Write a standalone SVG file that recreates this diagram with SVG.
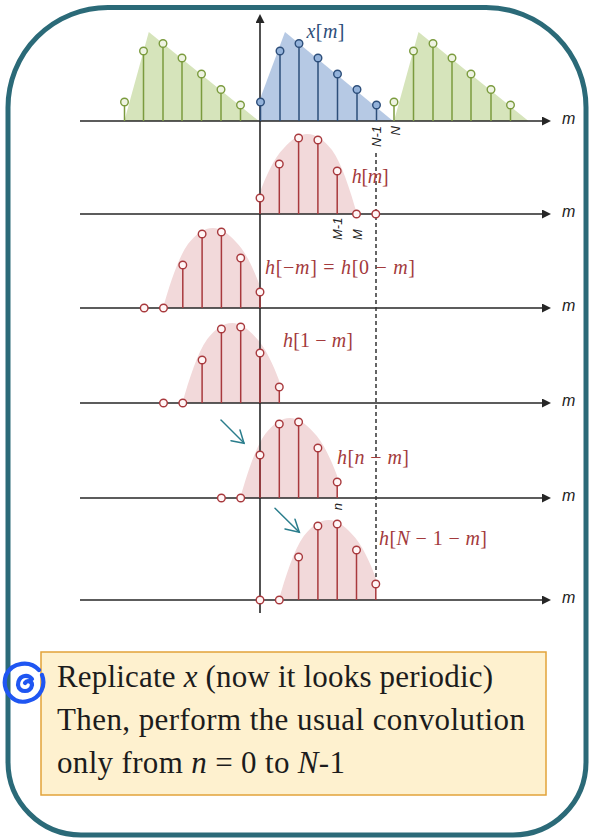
<svg xmlns="http://www.w3.org/2000/svg" xmlns:xlink="http://www.w3.org/1999/xlink" width="590" height="839" viewBox="0 0 590 839">
<style>
.ax{stroke:#262626;stroke-width:1.6;fill:none}
.gs{stroke:#7b9b3e;stroke-width:1.5}
.gc{fill:#eef3e2;stroke:#7b9b3e;stroke-width:1.4}
.bs{stroke:#2d4e7a;stroke-width:1.5}
.bc{fill:#93b2da;stroke:#2d4e7a;stroke-width:1.4}
.rs{stroke:#a8393d;stroke-width:1.5}
.rc{fill:#fff6f6;stroke:#a8393d;stroke-width:1.4}
.rf{fill:#f2d9da}
.ml{font-family:"Liberation Sans",Arial,sans-serif;font-style:italic;font-size:16px;fill:#222}
.tk{font-family:"Liberation Sans",Arial,sans-serif;font-style:italic;font-size:13px;fill:#222}
.mr{font-family:"Liberation Serif","Times New Roman",serif;font-size:20px;fill:#a33a3c}
.mb{font-family:"Liberation Serif","Times New Roman",serif;font-size:20px;fill:#2d4e7a}
.i{font-style:italic}
.bt{font-family:"Liberation Serif","Times New Roman",serif;font-size:31px;fill:#1c1c1c}
.tl{stroke:#2a7d8c;stroke-width:1.5;fill:none;stroke-linecap:round}
</style>
<defs>
<marker id="ah" markerWidth="10" markerHeight="10" refX="7" refY="4.5" orient="auto" markerUnits="userSpaceOnUse"><path d="M0,0 L9,4.5 L0,9 Z" fill="#262626"/></marker>
<path id="bump" d="M0,0 L0,-22 C6,-38 14,-56 24,-66 C32,-75 40,-80 47,-80 C56,-80 64,-74 72,-64 C82,-50 90,-24 97,0 Z"/>
</defs>

<rect width="590" height="839" fill="#ffffff"/>
<path id="frame" d="M108,7.5 L486,7.5 A100,100 0 0 1 586,107.5 L586,762 A73,73 0 0 1 513,835 L81,835 A73,73 0 0 1 8,762 L8,107.5 A100,100 0 0 1 108,7.5 Z" fill="none" stroke="#2b6a78" stroke-width="5"/>

<!-- fills -->
<g id="fills">
<polygon points="124.3,121 148.8,32 258.8,121" fill="#d6e4bb"/>
<polygon points="260,121 260,99 285,32 393,121" fill="#b6c9e4"/>
<polygon points="394,121 418.5,32 528.5,121" fill="#d6e4bb"/>
<use xlink:href="#bump" class="rf" transform="translate(260,214)"/>
<use xlink:href="#bump" class="rf" transform="translate(260,308) scale(-1,1)"/>
<use xlink:href="#bump" class="rf" transform="translate(279.3,403) scale(-1,1)"/>
<use xlink:href="#bump" class="rf" transform="translate(337.2,498) scale(-1,1)"/>
<use xlink:href="#bump" class="rf" transform="translate(375.8,600) scale(-1,1)"/>
</g>

<!-- axes -->
<g id="axes">
<line class="ax" x1="80" y1="121" x2="549" y2="121" marker-end="url(#ah)"/>
<line class="ax" x1="80" y1="214" x2="549" y2="214" marker-end="url(#ah)"/>
<line class="ax" x1="80" y1="308" x2="549" y2="308" marker-end="url(#ah)"/>
<line class="ax" x1="80" y1="403" x2="549" y2="403" marker-end="url(#ah)"/>
<line class="ax" x1="80" y1="498" x2="549" y2="498" marker-end="url(#ah)"/>
<line class="ax" x1="80" y1="600" x2="549" y2="600" marker-end="url(#ah)"/>
<line class="ax" x1="260" y1="613" x2="260" y2="16" marker-end="url(#ah)"/>
<text class="ml" x="562" y="124">m</text>
<text class="ml" x="562" y="217">m</text>
<text class="ml" x="562" y="311">m</text>
<text class="ml" x="562" y="406">m</text>
<text class="ml" x="562" y="501">m</text>
<text class="ml" x="562" y="603">m</text>
<line x1="376" y1="153" x2="376" y2="584" stroke="#333" stroke-width="1.5" stroke-dasharray="4,3"/>
</g>

<!-- row 1: x[m] replicated -->
<g id="row-x">
<g class="gs">
<line x1="124.5" y1="121" x2="124.5" y2="102"/><line x1="143.5" y1="121" x2="143.5" y2="51"/><line x1="163" y1="121" x2="163" y2="43.5"/><line x1="182" y1="121" x2="182" y2="58"/><line x1="201.5" y1="121" x2="201.5" y2="74"/><line x1="221" y1="121" x2="221" y2="89.5"/><line x1="240.5" y1="121" x2="240.5" y2="105"/>
<line x1="394" y1="121" x2="394" y2="102"/><line x1="413.5" y1="121" x2="413.5" y2="51"/><line x1="433" y1="121" x2="433" y2="43.5"/><line x1="452" y1="121" x2="452" y2="58"/><line x1="471" y1="121" x2="471" y2="74"/><line x1="491" y1="121" x2="491" y2="89.5"/><line x1="510.5" y1="121" x2="510.5" y2="105"/>
</g>
<g class="gc">
<circle cx="124.5" cy="102" r="3.8"/><circle cx="143.5" cy="51" r="3.8"/><circle cx="163" cy="43.5" r="3.8"/><circle cx="182" cy="58" r="3.8"/><circle cx="201.5" cy="74" r="3.8"/><circle cx="221" cy="89.5" r="3.8"/><circle cx="240.5" cy="105" r="3.8"/>
<circle cx="394" cy="102" r="3.8"/><circle cx="413.5" cy="51" r="3.8"/><circle cx="433" cy="43.5" r="3.8"/><circle cx="452" cy="58" r="3.8"/><circle cx="471" cy="74" r="3.8"/><circle cx="491" cy="89.5" r="3.8"/><circle cx="510.5" cy="105" r="3.8"/>
</g>
<g class="bs">
<line x1="260.5" y1="121" x2="260.5" y2="102"/><line x1="280" y1="121" x2="280" y2="51"/><line x1="299" y1="121" x2="299" y2="43.5"/><line x1="318" y1="121" x2="318" y2="58"/><line x1="337.5" y1="121" x2="337.5" y2="74"/><line x1="357" y1="121" x2="357" y2="89.5"/><line x1="376.5" y1="121" x2="376.5" y2="105"/>
</g>
<g class="bc">
<circle cx="260.5" cy="102" r="3.8"/><circle cx="280" cy="51" r="3.8"/><circle cx="299" cy="43.5" r="3.8"/><circle cx="318" cy="58" r="3.8"/><circle cx="337.5" cy="74" r="3.8"/><circle cx="357" cy="89.5" r="3.8"/><circle cx="376.5" cy="105" r="3.8"/>
</g>
<text class="mb" x="306.5" y="38" textLength="38"><tspan class="i">x</tspan>[<tspan class="i">m</tspan>]</text>
<text class="tk" text-anchor="end" transform="translate(380.5,126) rotate(-90)">N-1</text>
<text class="tk" text-anchor="end" transform="translate(399.5,126) rotate(-90)">N</text>
</g>

<!-- row 2: h[m] -->
<g id="row-h">
<g class="rs">
<line x1="260" y1="214" x2="260" y2="198"/><line x1="279.3" y1="214" x2="279.3" y2="164"/><line x1="298.6" y1="214" x2="298.6" y2="138"/><line x1="317.9" y1="214" x2="317.9" y2="140"/><line x1="337.2" y1="214" x2="337.2" y2="171"/>
</g>
<g class="rc">
<circle cx="260" cy="198" r="3.8"/><circle cx="279.3" cy="164" r="3.8"/><circle cx="298.6" cy="138" r="3.8"/><circle cx="317.9" cy="140" r="3.8"/><circle cx="337.2" cy="171" r="3.8"/><circle cx="356.5" cy="214" r="3.8"/><circle cx="375.8" cy="214" r="3.8"/>
</g>
<text class="mr" x="351.7" y="183" textLength="37"><tspan class="i">h</tspan>[<tspan class="i">m</tspan>]</text>
<text class="tk" transform="translate(342,240) rotate(-90)">M-1</text>
<text class="tk" transform="translate(361.5,240) rotate(-90)">M</text>
</g>

<!-- row 3: h[-m] -->
<g id="row-h0">
<g class="rs">
<line x1="260" y1="308" x2="260" y2="292"/><line x1="240.7" y1="308" x2="240.7" y2="258"/><line x1="221.4" y1="308" x2="221.4" y2="232"/><line x1="202.1" y1="308" x2="202.1" y2="234"/><line x1="182.8" y1="308" x2="182.8" y2="265"/>
</g>
<g class="rc">
<circle cx="260" cy="292" r="3.8"/><circle cx="240.7" cy="258" r="3.8"/><circle cx="221.4" cy="232" r="3.8"/><circle cx="202.1" cy="234" r="3.8"/><circle cx="182.8" cy="265" r="3.8"/><circle cx="163.5" cy="308" r="3.8"/><circle cx="144.2" cy="308" r="3.8"/>
</g>
<text class="mr" x="265" y="274" textLength="150"><tspan class="i">h</tspan>[−<tspan class="i">m</tspan>] = <tspan class="i">h</tspan>[0 − <tspan class="i">m</tspan>]</text>
</g>

<!-- row 4: h[1-m] -->
<g id="row-h1">
<g class="rs">
<line x1="279.3" y1="403" x2="279.3" y2="387"/><line x1="260" y1="403" x2="260" y2="353"/><line x1="240.7" y1="403" x2="240.7" y2="327"/><line x1="221.4" y1="403" x2="221.4" y2="329"/><line x1="202.1" y1="403" x2="202.1" y2="360"/>
</g>
<g class="rc">
<circle cx="279.3" cy="387" r="3.8"/><circle cx="260" cy="353" r="3.8"/><circle cx="240.7" cy="327" r="3.8"/><circle cx="221.4" cy="329" r="3.8"/><circle cx="202.1" cy="360" r="3.8"/><circle cx="182.8" cy="403" r="3.8"/><circle cx="163.5" cy="403" r="3.8"/>
</g>
<text class="mr" x="283" y="347" textLength="70"><tspan class="i">h</tspan>[1 − <tspan class="i">m</tspan>]</text>
</g>

<!-- row 5: h[n-m] -->
<g id="row-hn">
<g class="rs">
<line x1="337.2" y1="498" x2="337.2" y2="482"/><line x1="317.9" y1="498" x2="317.9" y2="448"/><line x1="298.6" y1="498" x2="298.6" y2="422"/><line x1="279.3" y1="498" x2="279.3" y2="424"/><line x1="260" y1="498" x2="260" y2="455"/>
</g>
<g class="rc">
<circle cx="337.2" cy="482" r="3.8"/><circle cx="317.9" cy="448" r="3.8"/><circle cx="298.6" cy="422" r="3.8"/><circle cx="279.3" cy="424" r="3.8"/><circle cx="260" cy="455" r="3.8"/><circle cx="240.7" cy="498" r="3.8"/><circle cx="221.4" cy="498" r="3.8"/>
</g>
<text class="mr" x="337" y="464" textLength="72"><tspan class="i">h</tspan>[<tspan class="i">n</tspan> − <tspan class="i">m</tspan>]</text>
<text class="tk" text-anchor="end" transform="translate(341.5,503) rotate(-90)">n</text>
</g>

<!-- row 6: h[N-1-m] -->
<g id="row-hN">
<g class="rs">
<line x1="375.8" y1="600" x2="375.8" y2="584"/><line x1="356.5" y1="600" x2="356.5" y2="550"/><line x1="337.2" y1="600" x2="337.2" y2="524"/><line x1="317.9" y1="600" x2="317.9" y2="526"/><line x1="298.6" y1="600" x2="298.6" y2="557"/>
</g>
<g class="rc">
<circle cx="375.8" cy="584" r="3.8"/><circle cx="356.5" cy="550" r="3.8"/><circle cx="337.2" cy="524" r="3.8"/><circle cx="317.9" cy="526" r="3.8"/><circle cx="298.6" cy="557" r="3.8"/><circle cx="279.3" cy="600" r="3.8"/><circle cx="260" cy="600" r="3.8"/>
</g>
<text class="mr" x="379" y="545" textLength="108"><tspan class="i">h</tspan>[<tspan class="i">N</tspan> − 1 − <tspan class="i">m</tspan>]</text>
</g>

<!-- connectors: shift arrows -->
<g id="connectors">
<line class="tl" x1="221" y1="420" x2="244" y2="443"/>
<polyline class="tl" points="231,440.7 244,443.3 240,430"/>
<line class="tl" x1="275" y1="508.3" x2="299.3" y2="532.3"/>
<polyline class="tl" points="285,529 299.3,532.3 295,519.3"/>
</g>

<!-- note box -->
<g id="note">
<rect x="41" y="652" width="505" height="143" fill="#fef1cf" stroke="#e2a33a" stroke-width="1.5"/>
<text class="bt" x="57" y="687" textLength="436">Replicate <tspan class="i">x</tspan> (now it looks periodic)</text>
<text class="bt" x="57" y="730" textLength="468">Then, perform the usual convolution</text>
<text class="bt" x="57" y="773" textLength="288">only from <tspan class="i">n</tspan> = 0 to <tspan class="i">N</tspan>-1</text>
</g>
<g id="pen-mark" fill="none" stroke="#1f56f2" stroke-width="4.2" stroke-linecap="round" stroke-linejoin="round">
<path d="M39,670 C30,660 12,662 6,675 C1,690 13,705 28,701 C41,698 46,685 42,675"/>
<path d="M32,679 C27,673 18,676 18,685 C19,693 31,693 32,685 C32,681 27,680 25,683"/>
</g>
</svg>
